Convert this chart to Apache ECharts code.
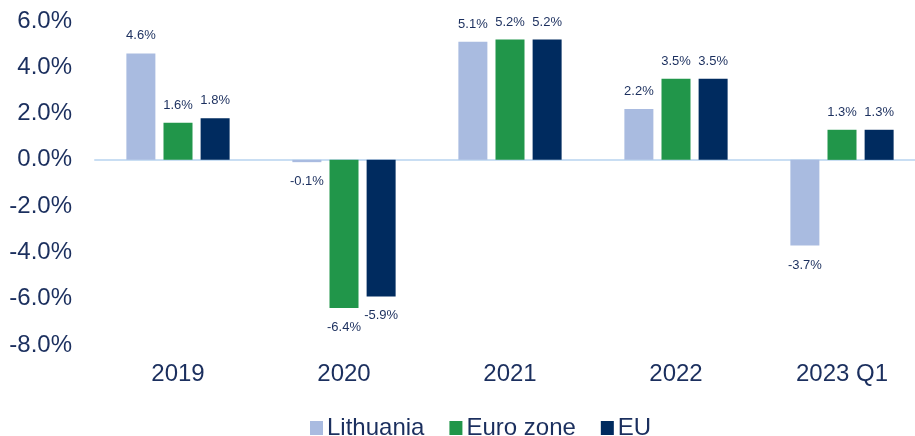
<!DOCTYPE html>
<html>
<head>
<meta charset="utf-8">
<script src="https://cdn.jsdelivr.net/npm/echarts@6/dist/echarts.min.js"></script>
<style>
  html, body { margin: 0; padding: 0; background: #fff; }
  #chart { width: 915px; height: 436px; }
</style>
</head>
<body>
<div id="chart"></div>
<script>
const categories = ['2019', '2020', '2021', '2022', '2023 Q1'];
const lithuania = [4.6, -0.1, 5.1, 2.2, -3.7];
const euroZone = [1.6, -6.4, 5.2, 3.5, 1.3];
const eu = [1.8, -5.9, 5.2, 3.5, 1.3];

const textColor = '#1b2f5e';

function withLabels(values) {
  return values.map(function (v) {
    return {
      value: v,
      label: { position: v < 0 ? 'bottom' : 'top', distance: v < 0 ? 13 : 11 }
    };
  });
}

function makeSeries(name, values, color) {
  return {
    name: name,
    type: 'bar',
    barWidth: 29,
    barGap: '28%',
    data: withLabels(values),
    itemStyle: { color: color },
    label: {
      show: true,
      color: textColor,
      fontSize: 13,
      fontFamily: 'Liberation Sans',
      formatter: function (p) { return p.value.toFixed(1) + '%'; }
    }
  };
}

window.addEventListener('load', function () {
  const myChart = echarts.init(document.getElementById('chart'));

  const option = {
    animation: false,
    textStyle: { fontFamily: 'Liberation Sans' },
    grid: { left: 95, right: -10, top: 21, bottom: 91, outerBoundsMode: 'none' },
    legend: {
      top: 411,
      left: 305,
      itemWidth: 13,
      itemHeight: 14,
      itemGap: 25,
      icon: 'rect',
      textStyle: { color: textColor, fontSize: 24, fontFamily: 'Liberation Sans', padding: [0, 0, 0, -1] },
      data: ['Lithuania', 'Euro zone', 'EU']
    },
    xAxis: [
      {
        type: 'category',
        data: categories,
        axisLine: { onZero: true, lineStyle: { color: '#c9def3', width: 2 } },
        axisTick: { show: false },
        axisLabel: { show: false }
      },
      {
        type: 'category',
        data: categories,
        position: 'bottom',
        axisLine: { show: false, onZero: false },
        axisTick: { show: false },
        axisLabel: { color: textColor, fontSize: 24, margin: 17, fontFamily: 'Liberation Sans' }
      }
    ],
    yAxis: {
      type: 'value',
      min: -8,
      max: 6,
      interval: 2,
      splitLine: { show: false },
      axisLine: { show: false },
      axisTick: { show: false },
      axisLabel: {
        color: textColor,
        fontSize: 24,
        margin: 23,
        fontFamily: 'Liberation Sans',
        formatter: function (v) { return v.toFixed(1) + '%'; }
      }
    },
    series: [
      makeSeries('Lithuania', lithuania, '#a9bbe0'),
      makeSeries('Euro zone', euroZone, '#21964a'),
      makeSeries('EU', eu, '#002b5f')
    ]
  };

  myChart.setOption(option);

  window.addEventListener('resize', function () {
    myChart.resize();
  });
});
</script>
</body>
</html>
